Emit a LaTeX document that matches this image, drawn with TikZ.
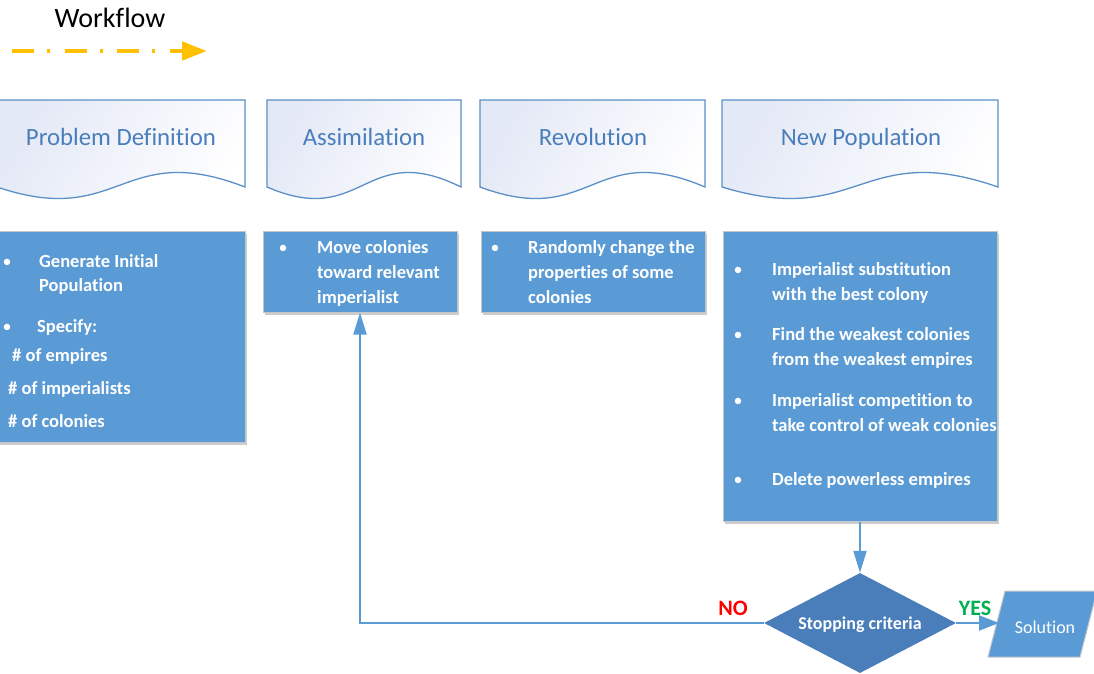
\documentclass[tikz,border=0pt]{standalone}
\usepackage{fontspec}
\setmainfont{Carlito}[Ligatures={NoCommon}]
\usetikzlibrary{shapes.geometric,shadows,arrows.meta}

\definecolor{boxblue}{HTML}{5B9BD5}
\definecolor{diablue}{HTML}{4A7EBB}
\definecolor{boxedge}{HTML}{C3C7CC}
\definecolor{hdredge}{HTML}{5B8FC7}
\definecolor{hdrfill}{HTML}{E4E9F6}
\definecolor{headtxt}{HTML}{4A7EBB}
\definecolor{flowyel}{HTML}{FFC000}
\definecolor{noRed}{HTML}{FF0000}
\definecolor{yesGreen}{HTML}{00B050}

\tikzset{
  hdrshape/.style={draw=hdredge, line width=1.3pt, left color=hdrfill, right color=white, shading angle=60},
  hdrtext/.style={inner sep=0pt, anchor=base, text=headtxt, font=\fontsize{24.8}{29}\selectfont},
  bluebox/.style={draw=boxedge, line width=1pt, fill=boxblue, inner sep=0pt,
    drop shadow={shadow xshift=2pt, shadow yshift=-3pt, opacity=0.2, fill=black}},
  itemtext/.style={inner sep=0pt, anchor=base west, text=white, font=\bfseries\fontsize{18.5}{22}\selectfont},
  bul/.style={inner sep=0pt, anchor=base, text=white, font=\fontsize{18}{22}\selectfont},
  conn/.style={draw=boxblue, line width=2pt, -{Triangle[length=22pt,width=13pt]}},
  tag/.style={inner sep=0pt, anchor=base, font=\bfseries\fontsize{22}{26}\selectfont},
}

% wavy "document" header between x=#1 and x=#2
\newcommand\hdrpath[2]{%
  \pgfmathsetmacro\midx{(#1+#2)/2}%
  \draw[hdrshape] (#1,100) -- (#2,100) -- (#2,187)
    .. controls (\midx,139) and (\midx,229) .. (#1,187) -- cycle;}

\begin{document}
\begin{tikzpicture}[x=1pt, y=-1pt]
\useasboundingbox (0,0) rectangle (1094,673);

% legend
\node[inner sep=0pt, anchor=base, font=\fontsize{28}{34}\selectfont] (legtxt) at (110,27) {Workflow};
\coordinate (legA) at (12,51);
\coordinate (legB) at (207,51);
\draw[flowyel, line width=4.5pt, dash pattern=on 22pt off 13pt on 3pt off 14.5pt,
      -{Triangle[length=25pt,width=18pt]}] (legA) -- (legB);

% stage headers
\hdrpath{-3}{245}
\hdrpath{267}{461}
\hdrpath{480}{705}
\hdrpath{722}{998}
\node[hdrtext] (hPD) at (121,145) {Problem Definition};
\node[hdrtext] (hAs) at (364,145) {Assimilation};
\node[hdrtext] (hRe) at (593,145) {Revolution};
\node[hdrtext] (hNP) at (861,145) {New Population};

% stage contents
\node[bluebox, minimum width=248pt, minimum height=211pt] (b1) at (121,336.5) {};
\node[bluebox, minimum width=194pt, minimum height=81pt] (b2) at (360,271.5) {};
\node[bluebox, minimum width=224pt, minimum height=81pt] (b3) at (593,271.5) {};
\node[bluebox, minimum width=274pt, minimum height=290pt] (b4) at (860,376) {};

% problem definition
\node[bul] (u1a) at (7,267) {•};
\node[itemtext] (t1a) at (39,267) {Generate Initial};
\node[itemtext] (t1b) at (39,291) {Population};
\node[bul] (u1b) at (7,332) {•};
\node[itemtext] (t1c) at (37,332) {Specify:};
\node[itemtext] (t1d) at (12,361.5) {\# of empires};
\node[itemtext] (t1e) at (8,394.5) {\# of imperialists};
\node[itemtext] (t1f) at (8,427.5) {\# of colonies};

% assimilation
\node[bul] (u2a) at (283,253) {•};
\node[itemtext] (t2a) at (317,253) {Move colonies};
\node[itemtext] (t2b) at (317,278) {toward relevant};
\node[itemtext] (t2c) at (317,303) {imperialist};

% revolution
\node[bul] (u3a) at (495,253) {•};
\node[itemtext] (t3a) at (528,253) {Randomly change the};
\node[itemtext] (t3b) at (528,278) {properties of some};
\node[itemtext] (t3c) at (528,303) {colonies};

% new population
\node[bul] (u4a) at (738,275) {•};
\node[itemtext] (t4a) at (772,275) {Imperialist substitution};
\node[itemtext] (t4b) at (772,300) {with the best colony};
\node[bul] (u4b) at (738,340) {•};
\node[itemtext] (t4c) at (772,340) {Find the weakest colonies};
\node[itemtext] (t4d) at (772,365) {from the weakest empires};
\node[bul] (u4c) at (738,406) {•};
\node[itemtext] (t4e) at (772,406) {Imperialist competition to};
\node[itemtext] (t4f) at (772,431) {take control of weak colonies};
\node[bul] (u4d) at (738,485) {•};
\node[itemtext] (t4g) at (772,485) {Delete powerless empires};

% decision
\node[diamond, aspect=2, fill=diablue, inner sep=0pt, minimum width=192pt, minimum height=100pt,
      text=white, text depth=0pt, font=\bfseries\fontsize{18}{22}\selectfont] (dia) at (860,623) {Stopping criteria};

% solution
\draw[fill=boxblue, draw=boxedge, line width=1pt] (1005,591) -- (1097,591) -- (1080,657) -- (988,657) -- cycle;
\node[inner sep=0pt, anchor=base, text=white, font=\fontsize{18}{22}\selectfont] (sol) at (1045,633) {Solution};
\coordinate (solin) at (999,623);

% connectors
\draw[conn] (b4.south) -- (dia.north);
\draw[conn] (dia.west) -| (b2.south);
\draw[conn, -{Triangle[length=20pt,width=15pt]}] (dia.east) -- (solin);

\node[tag, text=noRed] (no) at (733,615) {NO};
\node[tag, text=yesGreen] (yes) at (975,615) {YES};
\end{tikzpicture}
\end{document}
